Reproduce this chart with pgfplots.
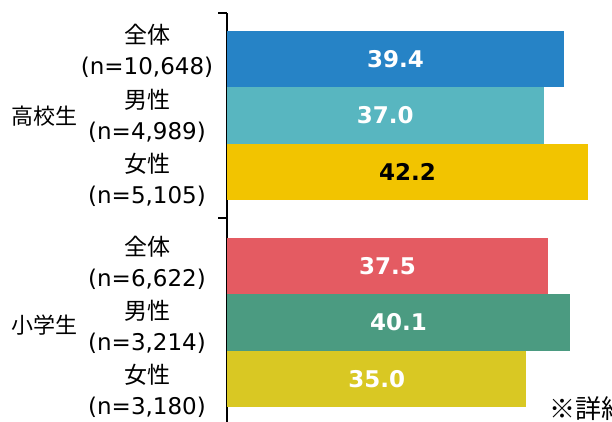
\documentclass[border=0pt]{standalone}
\usepackage{pgfplots}
\pgfplotsset{compat=1.18}
\usepackage{fontspec}
\setmainfont{DejaVu Sans}
\newfontfamily\jp{Noto Sans CJK JP}
\definecolor{c1}{HTML}{2683C6}
\definecolor{c2}{HTML}{58B6C0}
\definecolor{c3}{HTML}{F2C400}
\definecolor{c4}{HTML}{E45B62}
\definecolor{c5}{HTML}{4B9B81}
\definecolor{c6}{HTML}{D9C823}
% #1 value, #2 bar centre (y), #3 fill, #4 label colour
\newcommand\onebar[4]{%
  \addplot[xbar, fill=#3, draw=none, bar width=56.3, bar shift=0pt]
    table[row sep=\\, x=v, y=y] {v y\\ #1 #2\\};
  \addplot[draw=none, mark=none, nodes near coords={\pgfmathprintnumber[fixed,zerofill,precision=1,assume math mode=true]{\pgfplotspointmeta}},
    point meta=\thisrow{v},
    every node near coord/.append style={anchor=center, inner sep=0pt, text=#4, font=\bfseries\fontsize{23}{28}\selectfont}]
    table[row sep=\\, x expr=\thisrow{v}/2, y=y] {v y\\ #1 #2\\};
}
\begin{document}
\begin{tikzpicture}[x=1pt,y=1pt,
  lab/.style={align=center, inner sep=0pt, font=\fontsize{23}{31}\selectfont}]
\useasboundingbox (0,0) rectangle (612,422);
\clip (0,0) rectangle (612,422);
\begin{axis}[at={(227pt,-1pt)}, anchor=south west, scale only axis,
  width=385pt, height=410pt, xmin=0, xmax=45, ymin=-1, ymax=409,
  axis x line=none, axis y line*=left,
  ytick={-1,204,409}, yticklabels={},
  tick align=outside, major tick length=9pt,
  y axis line style={line width=1.4pt, black},
  major tick style={line width=1.4pt, black},
  clip=false]
\onebar{39.4}{362.8}{c1}{white}
\onebar{37.0}{306.5}{c2}{white}
\onebar{42.2}{250.2}{c3}{black}
\onebar{37.5}{155.8}{c4}{white}
\onebar{40.1}{99.5}{c5}{white}
\onebar{35.0}{43.2}{c6}{white}
\end{axis}
\node[lab] at (147,371) {{\jp 全体}\\(n=10,648)};
\node[lab] at (147,306) {{\jp 男性}\\(n=4,989)};
\node[lab] at (147,242) {{\jp 女性}\\(n=5,105)};
\node[lab] at (147,159.5) {{\jp 全体}\\(n=6,622)};
\node[lab] at (147,95.5) {{\jp 男性}\\(n=3,214)};
\node[lab] at (147,31.5) {{\jp 女性}\\(n=3,180)};
\node[inner sep=0pt, font=\jp\fontsize{22}{26}\selectfont] at (44.5,306) {高校生};
\node[inner sep=0pt, font=\jp\fontsize{22}{26}\selectfont] at (44.5,97) {小学生};
\node[inner sep=0pt, anchor=west, font=\jp\fontsize{26}{30}\selectfont] at (549,13) {※詳細};
\end{tikzpicture}
\end{document}
